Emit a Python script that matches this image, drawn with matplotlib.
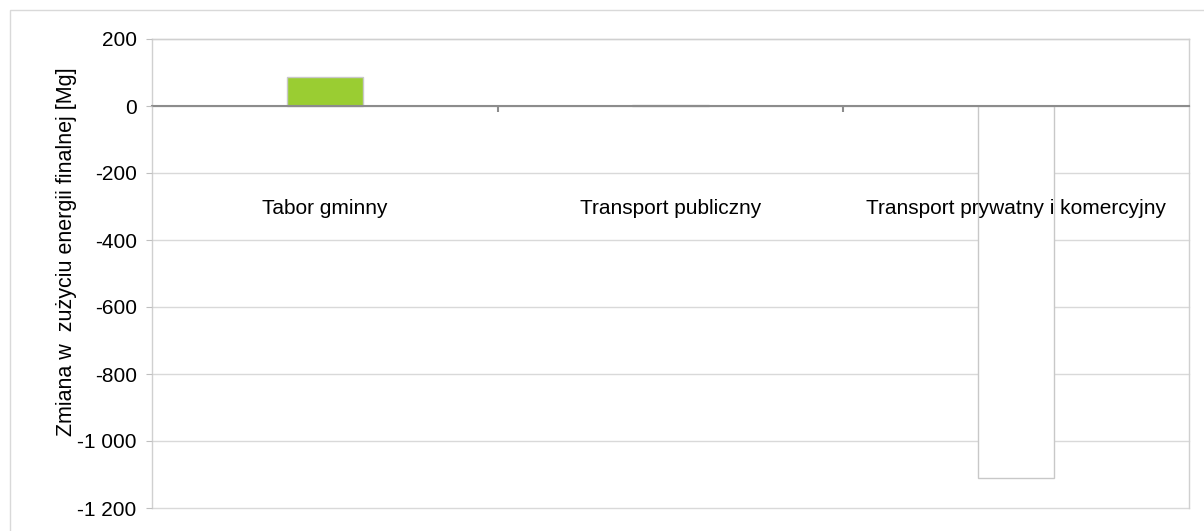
import matplotlib
matplotlib.use("Agg")
import matplotlib.pyplot as plt
from matplotlib.patches import Rectangle
from matplotlib.ticker import FuncFormatter, FixedLocator

plt.rcParams['font.family'] = ['Liberation Sans', 'DejaVu Sans']

categories = ["Tabor gminny", "Transport publiczny", "Transport prywatny i komercyjny"]
values = [87, 2, -1110]
fill_colors = ["#9acd32", "#d9d9d9", "#ffffff"]
y_ticks = [200, 0, -200, -400, -600, -800, -1000, -1200]
y_label = "Zmiana w  zużyciu energii finalnej [Mg]"

fig = plt.figure(figsize=(12.04, 5.31), dpi=100)
fig.patches.append(Rectangle((10 / 1204, -0.05), 1.2, 1 - 10 / 531 + 0.05,
                             transform=fig.transFigure, fill=False,
                             edgecolor="#d9d9d9", linewidth=1.0))
ax = fig.add_axes([152 / 1204, 1 - 508 / 531, (1189 - 152) / 1204, (508 - 39) / 531])

# horizontal gridlines under the bars; axis and labels drawn on top
for yv in y_ticks:
    ax.axhline(yv, color="#d9d9d9", linewidth=1.0, zorder=1, clip_on=False)

x = range(len(categories))
ax.bar(x, values, width=0.22, color=fill_colors, edgecolor="#c8c8c8",
       linewidth=1.0, zorder=2)

ax.set_xlim(-0.5, len(categories) - 0.5)
ax.set_ylim(-1200, 200)
ax.set_yticks(y_ticks)
ax.yaxis.set_major_formatter(FuncFormatter(
    lambda v, p: f"{int(v):,}".replace(",", " ")))
ax.set_axisbelow(False)

# category axis sits on zero
ax.spines["bottom"].set_position(("data", 0))
ax.spines["bottom"].set_color("#8c8c8c")
ax.spines["bottom"].set_linewidth(1.5)
for s in ("left", "right", "top"):
    ax.spines[s].set_color("#d0d0d0")
    ax.spines[s].set_linewidth(1.0)

ax.set_xticks(list(x))
ax.set_xticklabels(categories, fontsize=15)
ax.tick_params(axis="x", which="major", length=0, pad=67)
ax.xaxis.set_minor_locator(FixedLocator([0.5, 1.5]))
ax.tick_params(axis="x", which="minor", length=4, width=1.5, color="#8c8c8c", direction="out")

ax.tick_params(axis="y", length=4, color="#bfbfbf", labelsize=15, pad=7,
               labelcolor="#000000")

ax.set_ylabel(y_label, fontsize=15.5)
ax.yaxis.set_label_coords(-0.072, 0.546)

fig.savefig("out.png", dpi=100, facecolor="white")
